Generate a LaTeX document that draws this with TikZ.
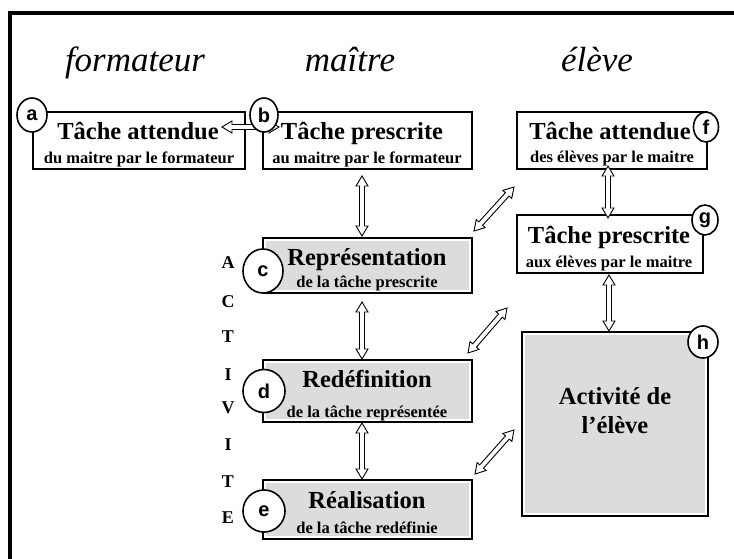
\documentclass[tikz,border=0pt]{standalone}
\usepackage{fontspec}
\setmainfont{Liberation Serif}
\newfontfamily\lsans{Liberation Sans}
\usetikzlibrary{calc,shapes.geometric}
\definecolor{boxgrey}{HTML}{DCDCDC}
\tikzset{
  box/.style={draw=black, line width=1.8pt, fill=white, inner sep=0pt, outer sep=0pt},
  greybox/.style={box, path picture={\fill[boxgrey] ([shift={(2.6pt,2.6pt)}]path picture bounding box.south west) rectangle ([shift={(-2.6pt,-2.6pt)}]path picture bounding box.north east);}},
  hdr/.style={font=\fontsize{35}{40}\selectfont\itshape, anchor=base, inner sep=0pt},
  ttl/.style={font=\fontsize{24.5}{28}\selectfont\bfseries, anchor=base, inner sep=0pt},
  subt/.style={font=\fontsize{16.5}{18}\selectfont\bfseries, anchor=base, inner sep=0pt},
  vlet/.style={font=\fontsize{18}{20}\selectfont\bfseries, anchor=base, inner sep=0pt},
  lbl/.style={ellipse, draw=black, line width=1.6pt, fill=white, inner sep=0pt,
    font=\lsans\fontsize{20}{22}\selectfont\bfseries},
  dblarrow/.style={draw=black, line width=0.9pt, fill=white, line join=miter,
    to path={
      ($(\tikztostart)!10pt!(\tikztotarget)$) coordinate (da-h1)
      ($(\tikztotarget)!10pt!(\tikztostart)$) coordinate (da-h2)
      (\tikztostart) -- ($(da-h1)!6pt!90:(\tikztotarget)$)
        -- ($(da-h1)!2.5pt!90:(\tikztotarget)$)
        -- ($(da-h2)!2.5pt!-90:(\tikztostart)$)
        -- ($(da-h2)!6pt!-90:(\tikztostart)$)
        -- (\tikztotarget)
        -- ($(da-h2)!6pt!90:(\tikztostart)$)
        -- ($(da-h2)!2.5pt!90:(\tikztostart)$)
        -- ($(da-h1)!2.5pt!-90:(\tikztotarget)$)
        -- ($(da-h1)!6pt!-90:(\tikztotarget)$)
        -- cycle}}
}
\begin{document}
\begin{tikzpicture}[x=1pt,y=-1pt]
\useasboundingbox (0,0) rectangle (734,559);
% frame
\draw[line width=4pt] (10,561) -- (10,13) -- (736,13);

% headers
\node[hdr] (h1) at (135,72) {formateur};
\node[hdr] (h2) at (350,72) {maître};
\node[hdr] (h3) at (597,72) {élève};

% boxes
\node[box, minimum width=212pt, minimum height=57pt] (a) at (139,140.5) {};
\node[box, minimum width=209pt, minimum height=57pt] (b) at (367.5,140.5) {};
\node[box, minimum width=190pt, minimum height=57pt] (f) at (612,140.5) {};
\node[box, minimum width=186pt, minimum height=58pt] (g) at (610,244) {};
\node[greybox, minimum width=209pt, minimum height=55pt] (c) at (367.5,265.5) {};
\node[greybox, minimum width=209pt, minimum height=62pt] (d) at (367.5,391) {};
\node[greybox, minimum width=209pt, minimum height=59pt] (e) at (367.5,509.5) {};
\node[greybox, minimum width=186pt, minimum height=184pt] (h) at (615,424) {};

% texts
\node[ttl] (a-t) at (138,140) {Tâche attendue};
\node[subt] (a-s) at (139,164) {du maitre par le formateur};
\node[ttl] (b-t) at (362,140) {Tâche prescrite};
\node[subt] (b-s) at (367,164) {au maitre par le formateur};
\node[ttl] (f-t) at (610,140) {Tâche attendue};
\node[subt] (f-s) at (612,163) {des élèves par le maitre};
\node[ttl] (g-t) at (609,243) {Tâche prescrite};
\node[subt] (g-s) at (609,267) {aux élèves par le maitre};
\node[ttl] (c-t) at (367,265) {Représentation};
\node[subt] (c-s) at (367,287) {de la tâche prescrite};
\node[ttl] (d-t) at (367,387) {Redéfinition};
\node[subt] (d-s) at (367,417) {de la tâche représentée};
\node[ttl] (e-t) at (367,508) {Réalisation};
\node[subt] (e-s) at (367,533) {de la tâche redéfinie};
\node[ttl] (h-t1) at (615,404) {Activité de};
\node[ttl] (h-t2) at (615,433) {l’élève};

% vertical word
\node[vlet] (v1) at (228,268) {A};
\node[vlet] (v2) at (228,307) {C};
\node[vlet] (v3) at (228,342) {T};
\node[vlet] (v4) at (228,380) {I};
\node[vlet] (v5) at (228,413) {V};
\node[vlet] (v6) at (228,450) {I};
\node[vlet] (v7) at (228,487) {T};
\node[vlet] (v8) at (228,523) {E};

% arrow end points
\coordinate (ab1) at (222,127);
\coordinate (ab2) at (279,127);
\coordinate (bc1) at (362,176);
\coordinate (bc2) at (362,236);
\coordinate (cd1) at (362,302);
\coordinate (cd2) at (362,359);
\coordinate (de1) at (362,423);
\coordinate (de2) at (362,479);
\coordinate (fg1) at (608,166);
\coordinate (fg2) at (608,218);
\coordinate (gh1) at (609,275);
\coordinate (gh2) at (609,331);
\coordinate (x11) at (474,231);
\coordinate (x12) at (514,187);
\coordinate (x21) at (468,353);
\coordinate (x22) at (507,308);
\coordinate (x31) at (475,474);
\coordinate (x32) at (514,430);

% arrows
\path[dblarrow] (ab1) to (ab2);
\path[dblarrow] (bc1) to (bc2);
\path[dblarrow] (cd1) to (cd2);
\path[dblarrow] (de1) to (de2);
\path[dblarrow] (fg1) to (fg2);
\path[dblarrow] (gh1) to (gh2);
\path[dblarrow] (x11) to (x12);
\path[dblarrow] (x21) to (x22);
\path[dblarrow] (x31) to (x32);

% circled labels
\node[lbl, minimum width=30pt, minimum height=34pt] (la) at (32,115) {a};
\node[lbl, minimum width=28pt, minimum height=34pt] (lb) at (264,115) {b};
\node[lbl, minimum width=40pt, minimum height=44pt] (lc) at (263,271) {c};
\node[lbl, minimum width=42pt, minimum height=43pt] (ld) at (264,391) {d};
\node[lbl, minimum width=42pt, minimum height=42pt] (le) at (264,511) {e};
\node[lbl, minimum width=25pt, minimum height=30pt] (lf) at (706,127) {f};
\node[lbl, minimum width=26pt, minimum height=30pt] (lg) at (705,220) {g};
\node[lbl, minimum width=30pt, minimum height=32pt] (lh) at (703,342) {h};
\end{tikzpicture}
\end{document}
